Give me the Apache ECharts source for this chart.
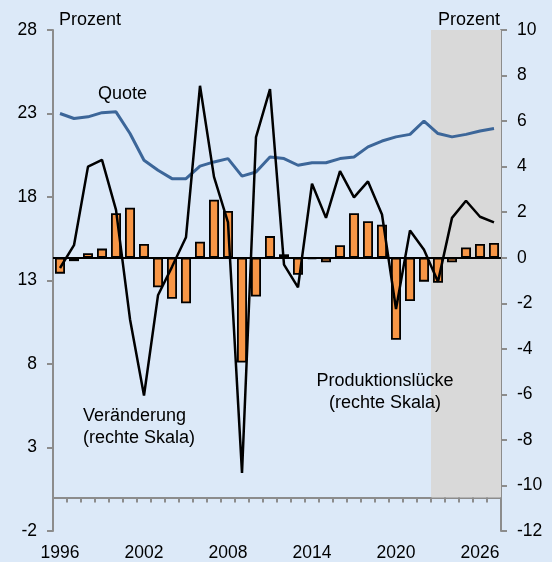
<!DOCTYPE html>
<html>
<head>
<meta charset="utf-8">
<script src="https://cdn.jsdelivr.net/npm/echarts@6/dist/echarts.min.js"></script>
<style>
  html, body { margin: 0; padding: 0; background: #dce9f8; }
  #chart { width: 552px; height: 562px; }
</style>
</head>
<body>
<div id="chart"></div>
<script>
var years = ['1996','1997','1998','1999','2000','2001','2002','2003','2004','2005',
             '2006','2007','2008','2009','2010','2011','2012','2013','2014','2015',
             '2016','2017','2018','2019','2020','2021','2022','2023','2024','2025',
             '2026','2027'];

// Quote (linke Skala)
var quote = [23.0, 22.7, 22.8, 23.05, 23.1, 21.8, 20.2, 19.6, 19.1, 19.1,
             19.85, 20.1, 20.3, 19.25, 19.5, 20.4, 20.3, 19.9, 20.05, 20.05,
             20.3, 20.4, 21.0, 21.35, 21.6, 21.75, 22.55, 21.8, 21.6, 21.75,
             21.95, 22.1];

// Veränderung (rechte Skala)
var change = [-0.45, 0.55, 4.0, 4.3, 2.1, -2.7, -6.05, -1.65, -0.4, 0.9,
              7.55, 3.55, 1.55, -9.45, 5.3, 7.4, -0.3, -1.3, 3.25, 1.75,
              3.8, 2.65, 3.35, 1.9, -2.25, 1.2, 0.35, -1.05, 1.75, 2.5,
              1.8, 1.55];

// Produktionslücke (rechte Skala)
var gap = [-0.7, -0.15, 0.2, 0.4, 1.95, 2.2, 0.6, -1.3, -1.8, -2.0,
           0.7, 2.55, 2.05, -4.6, -1.7, 0.95, 0.15, -0.75, -0.05, -0.2,
           0.55, 1.95, 1.6, 1.45, -3.6, -1.9, -1.05, -1.1, -0.2, 0.45,
           0.6, 0.65];

// Prognosezeitraum (grau hinterlegt)
var forecast = years.map(function (y) { return +y >= 2023 ? 28 : null; });

var leftTicks = { min: -2, max: 28, interval: 5 };
var rightTicks = { min: -12, max: 10, interval: 2 };

var font = "'Liberation Sans', Arial, sans-serif";
var axisGrey = '#8c8c8c';
var textFont = '18px ' + font;

var chart = echarts.init(document.getElementById('chart'));

var option = {
    backgroundColor: '#dce9f8',
    animation: false,
    textStyle: { fontFamily: font },
    grid: { left: 53, right: 51, top: 30, bottom: 30, containLabel: false },
    xAxis: [
        {
            // Achsenlinie auf Höhe 0 der linken Skala
            type: 'category',
            data: years,
            position: 'bottom',
            axisLine: { onZero: true, onZeroAxisIndex: 0, lineStyle: { color: axisGrey, width: 2 } },
            axisTick: { show: true, interval: 0, length: 5, lineStyle: { color: axisGrey, width: 2 } },
            axisLabel: { show: false },
            splitLine: { show: false }
        },
        {
            // Jahresbeschriftung am unteren Rand
            type: 'category',
            data: years,
            position: 'bottom',
            axisLine: { show: false, onZero: false },
            axisTick: { show: false },
            axisLabel: {
                interval: 5,
                margin: 13,
                color: '#000',
                fontSize: 17.5,
                fontFamily: font
            },
            splitLine: { show: false }
        }
    ],
    yAxis: [
        {
            type: 'value',
            position: 'left',
            min: leftTicks.min,
            max: leftTicks.max,
            interval: leftTicks.interval,
            axisLine: { show: true, lineStyle: { color: axisGrey, width: 2 } },
            axisTick: { show: true, length: 6, lineStyle: { color: axisGrey, width: 2 } },
            axisLabel: { margin: 16, color: '#000', fontSize: 17.5, fontFamily: font },
            splitLine: { show: false }
        },
        {
            type: 'value',
            position: 'right',
            min: rightTicks.min,
            max: rightTicks.max,
            interval: rightTicks.interval,
            axisLine: { show: true, lineStyle: { color: axisGrey, width: 2 } },
            axisTick: { show: true, length: 6, lineStyle: { color: axisGrey, width: 2 } },
            axisLabel: { margin: 16, color: '#000', fontSize: 17.5, fontFamily: font },
            splitLine: { show: false }
        }
    ],
    series: [
        {
            name: 'Prognose',
            type: 'bar',
            xAxisIndex: 1,
            yAxisIndex: 0,
            data: forecast,
            barWidth: '100%',
            barCategoryGap: '0%',
            itemStyle: { color: '#d9d9d9', borderWidth: 0 },
            silent: true,
            z: 0
        },
        {
            name: 'Produktionslücke',
            type: 'bar',
            xAxisIndex: 0,
            yAxisIndex: 1,
            data: gap,
            barWidth: 10,
            itemStyle: { color: '#f79646', borderColor: '#000', borderWidth: 1.8 },
            markLine: {
                silent: true,
                symbol: 'none',
                label: { show: false },
                lineStyle: { color: '#000', width: 2, type: 'solid' },
                data: [{ yAxis: 0 }]
            },
            z: 2
        },
        {
            name: 'Quote',
            type: 'line',
            xAxisIndex: 0,
            yAxisIndex: 0,
            data: quote,
            symbol: 'none',
            lineStyle: { color: '#3c6699', width: 3 },
            z: 3
        },
        {
            name: 'Veränderung',
            type: 'line',
            xAxisIndex: 0,
            yAxisIndex: 1,
            data: change,
            symbol: 'none',
            lineStyle: { color: '#000', width: 2.5 },
            z: 4
        }
    ],
    graphic: [
        { type: 'text', z: 100, x: 59, y: 20, style: { text: 'Prozent', font: textFont, fill: '#000', textAlign: 'left', textVerticalAlign: 'middle' } },
        { type: 'text', z: 100, x: 500, y: 20, style: { text: 'Prozent', font: textFont, fill: '#000', textAlign: 'right', textVerticalAlign: 'middle' } },
        { type: 'text', z: 100, x: 98, y: 94, style: { text: 'Quote', font: textFont, fill: '#000', textAlign: 'left', textVerticalAlign: 'middle' } },
        { type: 'text', z: 100, x: 83, y: 427, style: { text: 'Veränderung\n(rechte Skala)', font: textFont, lineHeight: 22, fill: '#000', textAlign: 'left', textVerticalAlign: 'middle' } },
        { type: 'text', z: 100, x: 385, y: 392, style: { text: 'Produktionslücke\n(rechte Skala)', font: textFont, lineHeight: 22, fill: '#000', textAlign: 'center', textVerticalAlign: 'middle' } }
    ]
};

chart.setOption(option);
</script>
</body>
</html>
